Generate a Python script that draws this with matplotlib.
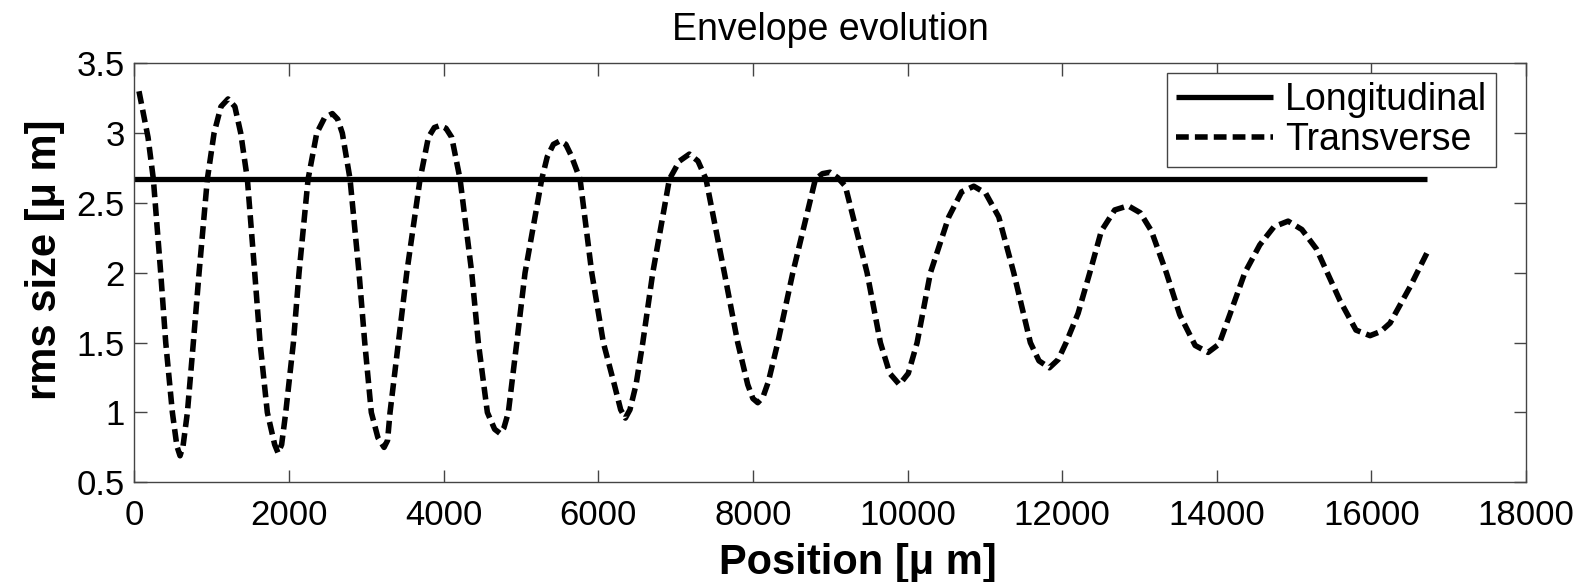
import matplotlib
matplotlib.use('Agg')
import matplotlib.pyplot as plt
from matplotlib.ticker import FuncFormatter

plt.rcParams['font.family'] = ['Liberation Sans', 'DejaVu Sans']

# Longitudinal rms size (constant)
long_x = [0, 16720]
long_y = [2.67, 2.67]

# Transverse rms size
trans_x = [60, 177, 246, 341, 406, 492, 550, 591, 630, 686, 763, 837, 944, 1031,
           1120, 1212, 1300, 1376, 1462, 1557, 1626, 1720, 1815, 1859, 1905, 1958,
           2057, 2130, 2247, 2359, 2460, 2561, 2630, 2690, 2790, 2906, 2980, 3065,
           3150, 3230, 3275, 3307, 3415, 3523, 3695, 3803, 3880, 3954, 4030, 4105,
           4213, 4364, 4449, 4566, 4660, 4730, 4780, 4837, 4946, 5053, 5269, 5340,
           5420, 5506, 5580, 5650, 5765, 5916, 6066, 6208, 6290, 6351, 6410, 6489,
           6576, 6705, 6920, 7050, 7178, 7290, 7394, 7631, 7804, 7933, 8000, 8063,
           8130, 8200, 8322, 8516, 8808, 8900, 8998, 9100, 9196, 9477, 9649, 9770,
           9895, 10010, 10124, 10296, 10533, 10700, 10857, 11010, 11180, 11374,
           11589, 11700, 11835, 11950, 12051, 12206, 12357, 12507, 12680, 12853,
           13010, 13154, 13348, 13521, 13720, 13887, 14030, 14168, 14362, 14556,
           14740, 14922, 15100, 15290, 15594, 15800, 15982, 16120, 16241, 16500,
           16716]
trans_y = [3.30, 2.97, 2.67, 2.00, 1.50, 1.00, 0.76, 0.69, 0.76, 1.00, 1.50, 2.00, 2.67, 3.00,
           3.19, 3.245, 3.19, 3.00, 2.67, 2.00, 1.50, 1.00, 0.77, 0.71, 0.77, 1.00,
           1.50, 2.00, 2.67, 3.00, 3.11, 3.14, 3.10, 3.00, 2.67, 2.00, 1.50, 1.00,
           0.82, 0.75, 0.80, 1.00, 1.50, 2.00, 2.67, 2.97, 3.04, 3.055, 3.035, 2.97,
           2.67, 2.00, 1.50, 1.00, 0.88, 0.85, 0.89, 1.00, 1.50, 2.00, 2.67, 2.83,
           2.92, 2.945, 2.92, 2.84, 2.67, 2.00, 1.50, 1.20, 1.02, 0.96, 1.02, 1.20,
           1.50, 2.00, 2.67, 2.80, 2.85, 2.80, 2.67, 2.00, 1.50, 1.20, 1.10, 1.07,
           1.11, 1.22, 1.50, 2.00, 2.67, 2.71, 2.72, 2.68, 2.62, 2.00, 1.50, 1.28,
           1.20, 1.28, 1.50, 2.00, 2.40, 2.58, 2.62, 2.57, 2.40, 2.00,
           1.50, 1.37, 1.32, 1.38, 1.50, 1.71, 2.00, 2.30, 2.45, 2.48,
           2.43, 2.30, 2.00, 1.70, 1.48, 1.43, 1.49, 1.70, 2.00, 2.20,
           2.33, 2.37, 2.31, 2.17, 1.80, 1.59, 1.55, 1.58, 1.64, 1.90,
           2.14]

x_ticks = [0, 2000, 4000, 6000, 8000, 10000, 12000, 14000, 16000, 18000]
y_ticks = [0.5, 1, 1.5, 2, 2.5, 3, 3.5]

fig = plt.figure(figsize=(15.88, 5.82), dpi=100)
ax = fig.add_axes([0.0846, 0.1713, 0.8764, 0.7199])

ax.plot(long_x, long_y, color='black', linewidth=3.8, solid_capstyle='butt',
        label='Longitudinal')
ax.plot(trans_x, trans_y, color='black', linewidth=4.0, dashes=(2.3, 1.1),
        solid_joinstyle='round', dash_joinstyle='round', label='Transverse')

ax.set_xlim(0, 18000)
ax.set_ylim(0.5, 3.5)
ax.set_xticks(x_ticks)
ax.set_yticks(y_ticks)
ax.yaxis.set_major_formatter(FuncFormatter(lambda v, p: '%g' % v))

ax.tick_params(direction='in', length=9, width=1, top=True, right=True,
               labelsize=25, colors='#444444', labelcolor='black')
ax.tick_params(axis='x', pad=12)
ax.tick_params(axis='y', pad=7)
for s in ax.spines.values():
    s.set_linewidth(1.0)
    s.set_color('#444444')

ax.set_title('Envelope evolution', fontsize=27, pad=17)
ax.set_xlabel('Position [\u03bc m]', fontsize=30, fontweight='bold')
ax.set_ylabel('rms size [\u03bc m]', fontsize=30, fontweight='bold')
ax.xaxis.set_label_coords(0.52, -0.145)
ax.yaxis.set_label_coords(-0.05, 0.53)

leg = ax.legend(loc='upper right', bbox_to_anchor=(0.9785, 0.9776),
                borderaxespad=0, fontsize=27, fancybox=False, framealpha=1,
                edgecolor='#444444', handlelength=2.6, handletextpad=0.3,
                labelspacing=0.1, borderpad=0.25)
leg.get_frame().set_linewidth(1.0)

fig.savefig('out.png', dpi=100)
